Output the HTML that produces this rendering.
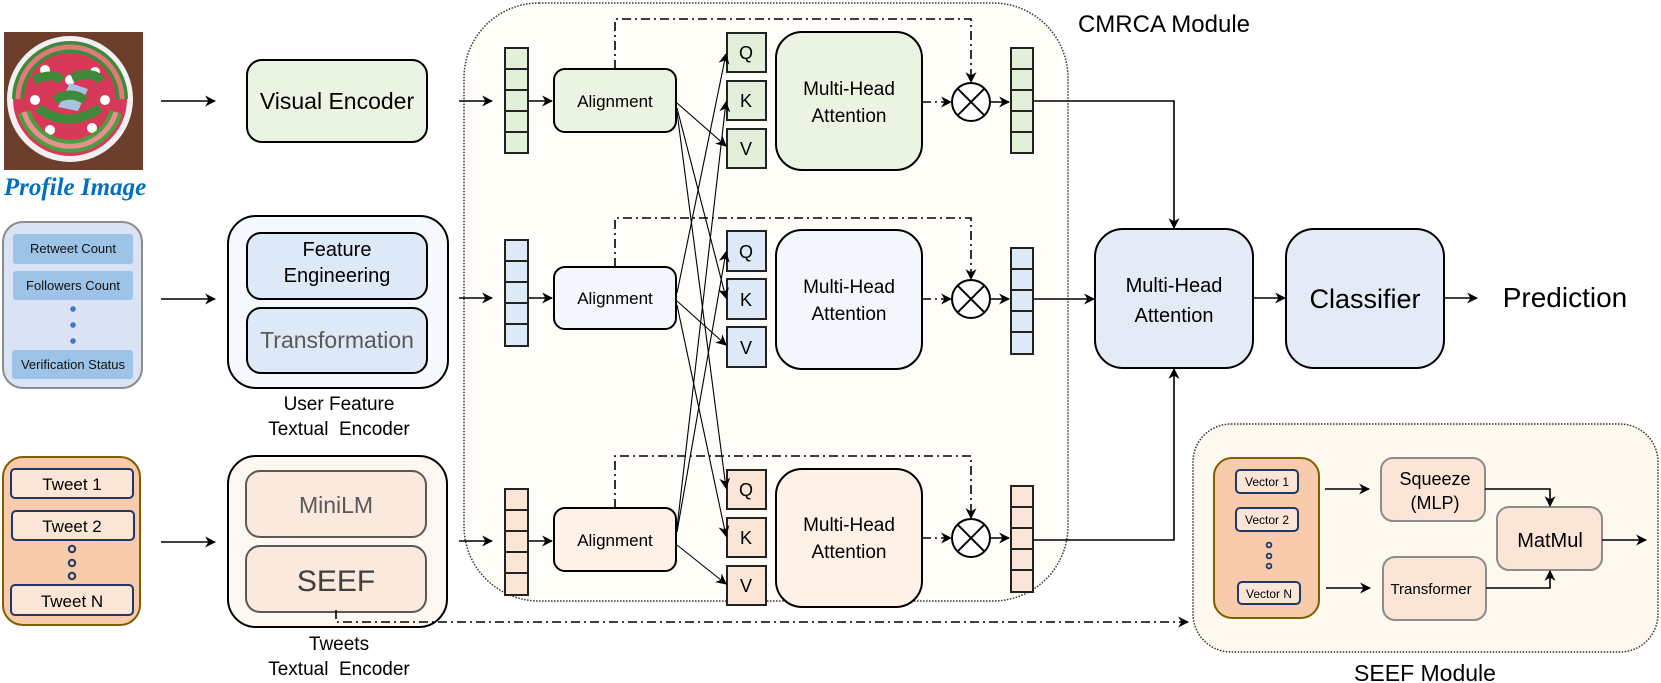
<!DOCTYPE html>
<html><head><meta charset="utf-8"><style>
html,body{margin:0;padding:0;background:#fff;}
svg{display:block;font-family:"Liberation Sans",sans-serif;}
</style></head><body>
<svg width="1661" height="683" viewBox="0 0 1661 683" xmlns="http://www.w3.org/2000/svg">
<defs>
<marker id="ar" viewBox="0 0 10 10" refX="9" refY="5" markerWidth="11" markerHeight="11" orient="auto-start-reverse" markerUnits="userSpaceOnUse"><path d="M0,0 L10,5 L0,10 L3,5 Z" fill="#000"/></marker>
</defs>

<!-- Profile image -->
<rect x="4" y="32" width="139" height="138" fill="#6b3f2c"/>
<circle cx="70" cy="99" r="63" fill="#f4f0f2"/>
<circle cx="70" cy="99" r="57" fill="#d63a58"/>
<g fill="#fff"><circle cx="45" cy="70" r="5"/><circle cx="95" cy="72" r="5"/><circle cx="35" cy="100" r="5"/><circle cx="105" cy="100" r="5"/><circle cx="50" cy="130" r="5"/><circle cx="92" cy="128" r="5"/><circle cx="70" cy="80" r="5"/></g>
<path d="M70,83 l18,6 l-10,22 l-20,-4 z" fill="#a9c2e0"/>
<path d="M18,99 A52,52 0 0 1 122,99" fill="none" stroke="#3f8a3a" stroke-width="12"/>
<path d="M18,99 A52,52 0 0 1 122,99" fill="none" stroke="#e07a7a" stroke-width="5"/>
<path d="M24,112 A48,48 0 0 0 116,112" fill="none" stroke="#4d9c40" stroke-width="13"/>
<path d="M24,112 A48,48 0 0 0 116,112" fill="none" stroke="#e89090" stroke-width="5"/>
<path d="M34,80 q18,-8 28,0" stroke="#3f8a3a" stroke-width="9" fill="none"/>
<path d="M72,78 q18,-8 30,2" stroke="#3f8a3a" stroke-width="9" fill="none"/>
<path d="M55,100 q15,-10 30,0" stroke="#3f8a3a" stroke-width="9" fill="none"/>
<path d="M38,108 q30,22 62,0" stroke="#3f8a3a" stroke-width="9" fill="none"/>
<text x="75" y="195" text-anchor="middle" font-family="Liberation Serif,serif" font-style="italic" font-weight="bold" font-size="25" fill="#0070c0">Profile Image</text>

<!-- left arrows -->
<g stroke="#000" stroke-width="1.6" fill="none" marker-end="url(#ar)">
<line x1="161" y1="101" x2="215" y2="101"/>
<line x1="161" y1="299" x2="215" y2="299"/>
<line x1="161" y1="542" x2="215" y2="542"/>
</g>

<!-- Visual Encoder -->
<rect x="247" y="60" width="180" height="82" rx="15" fill="#ebf3e3" stroke="#000" stroke-width="2"/>
<text x="337" y="109" text-anchor="middle" font-size="23">Visual Encoder</text>

<!-- User box -->
<rect x="3" y="222" width="139" height="166" rx="20" fill="#dae3f3" stroke="#8c8c8c" stroke-width="2"/>
<g fill="#9dc3e6"><rect x="13" y="234" width="120" height="30" rx="3"/><rect x="13" y="271" width="120" height="29" rx="3"/><rect x="12" y="350" width="121" height="29" rx="3"/></g>
<g font-size="13" text-anchor="middle" fill="#111"><text x="73" y="253">Retweet Count</text><text x="73" y="290">Followers Count</text><text x="73" y="369">Verification Status</text></g>
<g fill="#4472c4"><circle cx="73" cy="309" r="2.8"/><circle cx="73" cy="325" r="2.8"/><circle cx="73" cy="341" r="2.8"/></g>

<!-- User Feature encoder -->
<rect x="228" y="216" width="220" height="172" rx="28" fill="#f5f8fc" stroke="#000" stroke-width="2"/>
<rect x="247" y="233" width="180" height="66" rx="14" fill="#dee9f7" stroke="#000" stroke-width="2"/>
<rect x="247" y="308" width="180" height="65" rx="14" fill="#dee9f7" stroke="#000" stroke-width="2"/>
<text x="337" y="256" text-anchor="middle" font-size="20">Feature</text>
<text x="337" y="282" text-anchor="middle" font-size="20">Engineering</text>
<text x="337" y="348" text-anchor="middle" font-size="23" fill="#595959">Transformation</text>
<text x="339" y="410" text-anchor="middle" font-size="19">User Feature</text>
<text x="339" y="435" text-anchor="middle" font-size="19">Textual&#160; Encoder</text>

<!-- Tweets box -->
<rect x="3" y="457" width="137" height="168" rx="20" fill="#f8cbad" stroke="#7f6000" stroke-width="2"/>
<g fill="#fbe5d6" stroke="#1f3864" stroke-width="2"><rect x="11" y="469" width="122" height="29" rx="4"/><rect x="12" y="511" width="122" height="29" rx="4"/><rect x="11" y="585" width="122" height="30" rx="4"/></g>
<g font-size="17" text-anchor="middle"><text x="72" y="490">Tweet 1</text><text x="72" y="532">Tweet 2</text><text x="72" y="607">Tweet N</text></g>
<g fill="none" stroke="#1f3864" stroke-width="2"><circle cx="72" cy="549" r="3.2"/><circle cx="72" cy="563" r="3.2"/><circle cx="72" cy="576" r="3.2"/></g>

<!-- Tweets encoder -->
<rect x="228" y="456" width="219" height="171" rx="28" fill="#fef7f2" stroke="#000" stroke-width="2"/>
<rect x="246" y="471" width="180" height="66" rx="14" fill="#fbe9de" stroke="#595959" stroke-width="2"/>
<rect x="246" y="546" width="180" height="66" rx="14" fill="#fbe9de" stroke="#595959" stroke-width="2"/>
<text x="336" y="513" text-anchor="middle" font-size="23" fill="#595959">MiniLM</text>
<text x="336" y="591" text-anchor="middle" font-size="30" fill="#404040">SEEF</text>
<text x="339" y="650" text-anchor="middle" font-size="19">Tweets</text>
<text x="339" y="675" text-anchor="middle" font-size="19">Textual&#160; Encoder</text>

<!-- CMRCA module -->
<rect x="464" y="3" width="604" height="598" rx="75" fill="#fefdf7" stroke="#333" stroke-width="1.5" stroke-dasharray="1.5,1.5"/>
<text x="1164" y="32" text-anchor="middle" font-size="24">CMRCA Module</text>

<!-- dash-dot long arrow from SEEF -->
<path d="M336,610 L336,622 L1188,622" fill="none" stroke="#000" stroke-width="1.6" stroke-dasharray="9,4,2,4" marker-end="url(#ar)"/>

<!-- input arrows into CMRCA -->
<g stroke="#000" stroke-width="1.6" fill="none" marker-end="url(#ar)">
<line x1="459" y1="101" x2="492" y2="101"/>
<line x1="459" y1="298" x2="492" y2="298"/>
<line x1="459" y1="541" x2="492" y2="541"/>
<line x1="528" y1="101" x2="552" y2="101"/>
<line x1="528" y1="298" x2="552" y2="298"/>
<line x1="528" y1="541" x2="552" y2="541"/>
</g>

<!-- vectors -->
<g stroke="#222" stroke-width="2">
<g fill="#e2efd9"><rect x="505" y="48" width="23" height="21"/><rect x="505" y="69" width="23" height="21"/><rect x="505" y="90" width="23" height="21"/><rect x="505" y="111" width="23" height="21"/><rect x="505" y="132" width="23" height="21"/>
<rect x="1011" y="48" width="22" height="21"/><rect x="1011" y="69" width="22" height="21"/><rect x="1011" y="90" width="22" height="21"/><rect x="1011" y="111" width="22" height="21"/><rect x="1011" y="132" width="22" height="21"/></g>
<g fill="#dee9f7"><rect x="505" y="240" width="23" height="21"/><rect x="505" y="261" width="23" height="21"/><rect x="505" y="282" width="23" height="21"/><rect x="505" y="303" width="23" height="21"/><rect x="505" y="324" width="23" height="22"/>
<rect x="1011" y="248" width="22" height="21"/><rect x="1011" y="269" width="22" height="21"/><rect x="1011" y="290" width="22" height="21"/><rect x="1011" y="311" width="22" height="21"/><rect x="1011" y="332" width="22" height="22"/></g>
<g fill="#fbe5d6"><rect x="505" y="489" width="23" height="21"/><rect x="505" y="510" width="23" height="21"/><rect x="505" y="531" width="23" height="21"/><rect x="505" y="552" width="23" height="21"/><rect x="505" y="573" width="23" height="22"/>
<rect x="1011" y="486" width="22" height="21"/><rect x="1011" y="507" width="22" height="21"/><rect x="1011" y="528" width="22" height="21"/><rect x="1011" y="549" width="22" height="21"/><rect x="1011" y="570" width="22" height="22"/></g>
</g>

<!-- Alignment boxes -->
<g stroke="#000" stroke-width="2">
<rect x="554" y="69" width="122" height="63" rx="11" fill="#ebf3e3"/>
<rect x="554" y="267" width="122" height="62" rx="11" fill="#f3f6fb"/>
<rect x="554" y="508" width="122" height="63" rx="11" fill="#fdf1e8"/>
</g>
<g font-size="17" text-anchor="middle"><text x="615" y="107">Alignment</text><text x="615" y="304">Alignment</text><text x="615" y="546">Alignment</text></g>

<!-- dash-dot loops -->
<g fill="none" stroke="#000" stroke-width="1.6" stroke-dasharray="9,4,2,4" marker-end="url(#ar)">
<path d="M615,69 L615,19 L971,19 L971,82"/>
<path d="M615,267 L615,218 L971,218 L971,279"/>
<path d="M615,508 L615,456 L971,456 L971,518"/>
<line x1="922" y1="102" x2="951" y2="102"/>
<line x1="922" y1="299" x2="951" y2="299"/>
<line x1="922" y1="538" x2="951" y2="538"/>
</g>

<!-- QKV -->
<g stroke="#222" stroke-width="2">
<g fill="#e2efd9"><rect x="727" y="33" width="39" height="39"/><rect x="727" y="81" width="39" height="39"/><rect x="727" y="129" width="39" height="39"/></g>
<g fill="#dee9f7"><rect x="727" y="231" width="39" height="40"/><rect x="727" y="279" width="39" height="40"/><rect x="727" y="327" width="39" height="40"/></g>
<g fill="#fbe5d6"><rect x="727" y="470" width="39" height="39"/><rect x="727" y="518" width="39" height="39"/><rect x="727" y="566" width="39" height="39"/></g>
</g>
<g font-size="18" text-anchor="middle">
<text x="746" y="59">Q</text><text x="746" y="107">K</text><text x="746" y="155">V</text>
<text x="746" y="258">Q</text><text x="746" y="306">K</text><text x="746" y="354">V</text>
<text x="746" y="496">Q</text><text x="746" y="544">K</text><text x="746" y="592">V</text>
</g>

<!-- cross lines -->
<g stroke="#000" stroke-width="1.1" fill="none" marker-end="url(#ar)">
<line x1="677" y1="103" x2="726" y2="146"/>
<line x1="677" y1="108" x2="726" y2="298"/>
<line x1="677" y1="112" x2="726" y2="488"/>
<line x1="677" y1="293" x2="726" y2="54"/>
<line x1="677" y1="301" x2="726" y2="345"/>
<line x1="677" y1="305" x2="726" y2="536"/>
<line x1="677" y1="528" x2="726" y2="102"/>
<line x1="677" y1="532" x2="726" y2="252"/>
<line x1="677" y1="545" x2="726" y2="584"/>
</g>

<!-- MHA boxes -->
<g stroke="#000" stroke-width="2">
<rect x="776" y="32" width="146" height="138" rx="26" fill="#ebf3e3"/>
<rect x="776" y="230" width="146" height="139" rx="26" fill="#f3f6fb"/>
<rect x="776" y="469" width="146" height="138" rx="26" fill="#fdf1e8"/>
</g>
<g font-size="19" text-anchor="middle">
<text x="849" y="95">Multi-Head</text><text x="849" y="122">Attention</text>
<text x="849" y="293">Multi-Head</text><text x="849" y="320">Attention</text>
<text x="849" y="531">Multi-Head</text><text x="849" y="558">Attention</text>
</g>

<!-- otimes -->
<g stroke="#000" stroke-width="2" fill="#fff">
<circle cx="971" cy="102" r="19"/><path d="M957.6,88.6 L984.4,115.4 M984.4,88.6 L957.6,115.4"/>
<circle cx="971" cy="299" r="19"/><path d="M957.6,285.6 L984.4,312.4 M984.4,285.6 L957.6,312.4"/>
<circle cx="971" cy="538" r="19"/><path d="M957.6,524.6 L984.4,551.4 M984.4,524.6 L957.6,551.4"/>
</g>
<g stroke="#000" stroke-width="1.6" fill="none" marker-end="url(#ar)">
<line x1="990" y1="102" x2="1009" y2="102"/>
<line x1="990" y1="299" x2="1009" y2="299"/>
<line x1="990" y1="538" x2="1009" y2="538"/>
<path d="M1033,101 L1174,101 L1174,228"/>
<line x1="1033" y1="299" x2="1094" y2="299"/>
<path d="M1033,540 L1174,540 L1174,369"/>
<line x1="1253" y1="298" x2="1285" y2="298"/>
<line x1="1444" y1="298" x2="1477" y2="298"/>
</g>

<!-- big MHA & classifier -->
<rect x="1095" y="229" width="158" height="139" rx="28" fill="#e4ebf6" stroke="#000" stroke-width="2"/>
<rect x="1286" y="229" width="158" height="139" rx="28" fill="#e4ebf6" stroke="#000" stroke-width="2"/>
<text x="1174" y="292" text-anchor="middle" font-size="20">Multi-Head</text>
<text x="1174" y="322" text-anchor="middle" font-size="20">Attention</text>
<text x="1365" y="308" text-anchor="middle" font-size="27">Classifier</text>
<text x="1565" y="307" text-anchor="middle" font-size="28">Prediction</text>

<!-- SEEF module -->
<rect x="1193" y="424" width="465" height="228" rx="38" fill="#fef9ee" stroke="#333" stroke-width="1.5" stroke-dasharray="1.5,1.5"/>
<text x="1425" y="681" text-anchor="middle" font-size="23">SEEF Module</text>
<rect x="1214" y="458" width="105" height="160" rx="18" fill="#f8cbad" stroke="#7f6000" stroke-width="2"/>
<g fill="#fbe5d6" stroke="#1f3864" stroke-width="2"><rect x="1236" y="470" width="62" height="23" rx="4"/><rect x="1236" y="508" width="62" height="23" rx="4"/><rect x="1238" y="582" width="62" height="22" rx="4"/></g>
<g font-size="12" text-anchor="middle"><text x="1267" y="486">Vector 1</text><text x="1267" y="524">Vector 2</text><text x="1269" y="598">Vector N</text></g>
<g fill="none" stroke="#1f3864" stroke-width="1.8"><circle cx="1269" cy="545" r="2.4"/><circle cx="1269" cy="556" r="2.4"/><circle cx="1269" cy="566" r="2.4"/></g>
<g stroke="#8c8c8c" stroke-width="2" fill="#fbe5d6">
<rect x="1381" y="458" width="104" height="63" rx="12"/>
<rect x="1383" y="557" width="103" height="63" rx="12"/>
<rect x="1497" y="507" width="105" height="63" rx="12"/>
</g>
<text x="1435" y="485" text-anchor="middle" font-size="18">Squeeze</text>
<text x="1435" y="509" text-anchor="middle" font-size="18">(MLP)</text>
<text x="1431" y="594" text-anchor="middle" font-size="15">Transformer</text>
<text x="1550" y="547" text-anchor="middle" font-size="20">MatMul</text>
<g stroke="#000" stroke-width="1.6" fill="none" marker-end="url(#ar)">
<line x1="1325" y1="489" x2="1369" y2="489"/>
<line x1="1326" y1="588" x2="1370" y2="588"/>
<path d="M1485,489 L1550,489 L1550,506"/>
<path d="M1486,588 L1550,588 L1550,571"/>
<line x1="1602" y1="540" x2="1646" y2="540"/>
</g>
</svg>
</body></html>
